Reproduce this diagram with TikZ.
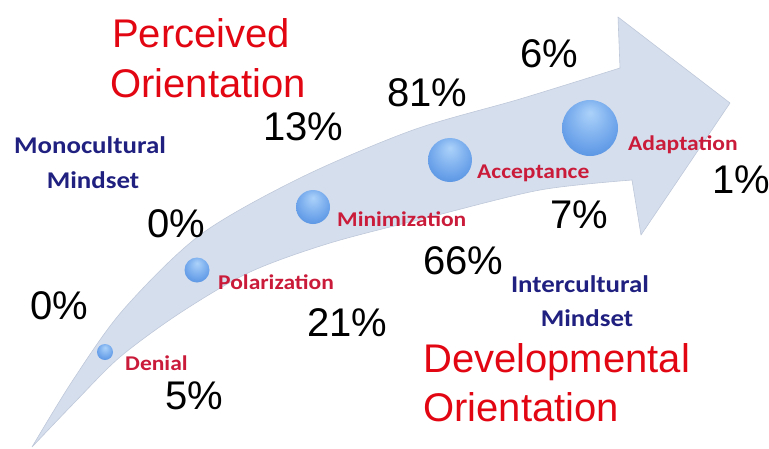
\documentclass[tikz,border=0pt]{standalone}
\usepackage{fontspec}
\setmainfont{Liberation Sans}
\newfontfamily\stagefont[FakeStretch=1.12]{Carlito}
\definecolor{arrowfill}{RGB}{213,222,237}
\definecolor{arrowedge}{RGB}{190,200,217}
\definecolor{headred}{RGB}{226,6,19}
\definecolor{stagered}{RGB}{202,28,58}
\definecolor{mindblue}{RGB}{32,32,128}
\definecolor{sphlight}{RGB}{172,210,250}
\definecolor{sphmid}{RGB}{108,163,234}
\definecolor{sphdark}{RGB}{58,122,212}
\pgfdeclareradialshading{sphere}{\pgfpoint{0bp}{14bp}}{%
  color(0bp)=(sphlight); color(24bp)=(sphmid); color(46bp)=(sphdark); color(50bp)=(sphdark)}
\tikzset{
  sph/.style={circle, inner sep=0pt, shading=sphere},
  bigtext/.style={inner sep=0pt, anchor=base west, text=headred, font=\fontsize{40}{40}\selectfont},
  pct/.style={inner sep=0pt, anchor=base west, text=black, font=\fontsize{40}{40}\selectfont},
  stage/.style={inner sep=0pt, anchor=base west, text=stagered, font=\stagefont\bfseries\fontsize{21}{21}\selectfont},
  mind/.style={inner sep=0pt, anchor=base, text=mindblue, font=\stagefont\bfseries\fontsize{24}{24}\selectfont}
}
\begin{document}
\begin{tikzpicture}[x=1pt,y=-1pt]
\useasboundingbox (0,0) rectangle (769,448);
% the curved development arrow
\filldraw[fill=arrowfill, draw=arrowedge, line width=0.6pt, line join=round]
  plot[smooth] coordinates {(32,447) (73,380) (123,310) (200,235) (300,178) (413,130) (520,99) (620,68)}
  -- (618,17) -- (730,103) -- (641,235)
  -- plot[smooth] coordinates {(632,180) (540,190) (430,217) (330,243) (250,272) (180,313) (120,357) (75,402) (32,447)}
  -- cycle;
% stage spheres
\node[sph, minimum size=16] (sdenial) at (105,352) {};
\node[sph, minimum size=25] (spolar) at (197,270) {};
\node[sph, minimum size=34] (smini) at (313,207) {};
\node[sph, minimum size=44] (saccept) at (450,160) {};
\node[sph, minimum size=56] (sadapt) at (590,128) {};
% stage labels
\node[stage] (ldenial) at (125,370) {Denial};
\node[stage] (lpolar) at (218,289) {Polarization};
\node[stage] (lmini) at (337,226) {Minimization};
\node[stage] (laccept) at (477,178) {Acceptance};
\node[stage] (ladapt) at (628,150) {Adaptation};
% mindsets
\node[mind] (mono1) at (90,153) {Monocultural};
\node[mind] (mono2) at (93,188) {Mindset};
\node[mind] (inter1) at (580,292) {Intercultural};
\node[mind] (inter2) at (587,326) {Mindset};
% orientation headings
\node[bigtext] (perc1) at (112,47) {Perceived};
\node[bigtext] (perc2) at (110,97) {Orientation};
\node[bigtext] (dev1) at (423,372) {Developmental};
\node[bigtext] (dev2) at (423,421) {Orientation};
% percentages
\node[pct] (p13) at (263,140) {13\%};
\node[pct] (p81) at (387,106) {81\%};
\node[pct] (p6) at (520,67) {6\%};
\node[pct] (p0a) at (147,237) {0\%};
\node[pct] (p0b) at (30,319) {0\%};
\node[pct] (p5) at (165,409) {5\%};
\node[pct] (p21) at (307,336) {21\%};
\node[pct] (p66) at (423,274) {66\%};
\node[pct] (p7) at (550,228) {7\%};
\node[pct] (p1) at (712,193) {1\%};
\end{tikzpicture}
\end{document}
